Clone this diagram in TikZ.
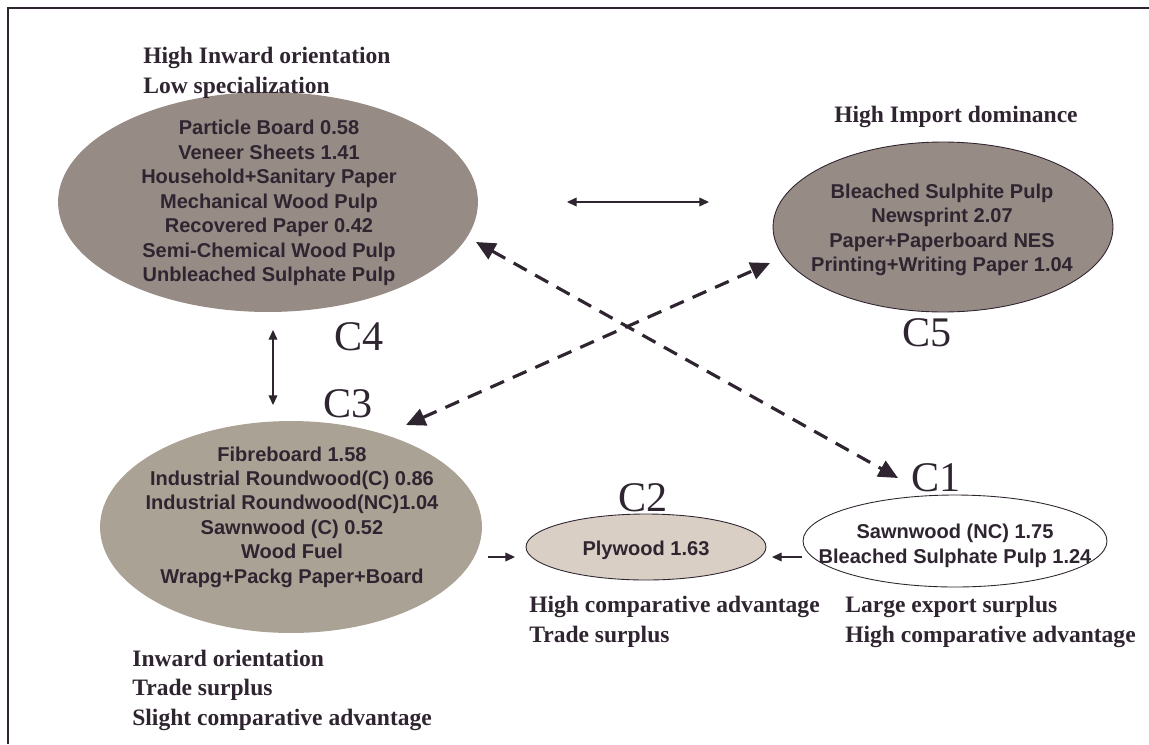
\documentclass[tikz,border=0pt]{standalone}
\usepackage{fontspec}
\setmainfont{Liberation Serif}
\setsansfont{Liberation Sans}
\usetikzlibrary{shapes.geometric,arrows.meta}
\definecolor{ink}{HTML}{2F2530}
\definecolor{darkclu}{HTML}{968B85}
\definecolor{midclu}{HTML}{ABA296}
\definecolor{lightclu}{HTML}{D9CFC5}

\begin{document}
\begin{tikzpicture}[
    x=0.02cm, y=-0.02cm,
    clu/.style={ellipse, inner sep=0pt},
    items/.style={align=center, text=ink, font=\sffamily\bfseries\fontsize{11.4}{13.9}\selectfont},
    note/.style={align=left, anchor=base west, inner sep=0pt, text=ink, font=\bfseries\fontsize{13.4}{16.7}\selectfont},
    tag/.style={text=ink, font=\fontsize{24}{24}\selectfont},
    link/.style={draw=ink, line width=0.6pt, {Triangle[length=5.5pt,width=5pt]}-{Triangle[length=5.5pt,width=5pt]}},
    jump/.style={draw=ink, line width=1.8pt, dash pattern=on 8.5pt off 5.5pt, {Triangle[length=11pt,width=10pt]}-{Triangle[length=11pt,width=10pt]}},
]
    \useasboundingbox (0,0) rectangle (1149,744);
    \draw [ink, line width=1.1pt] (8,744) -- (8,8) -- (1149,8);

    % clusters
    \node [clu, fill=darkclu, minimum width=8.4cm, minimum height=4.4cm] (c4) at (268,202) {};
    \node [clu, fill=darkclu, draw=ink, line width=0.5pt, minimum width=6.8cm, minimum height=3.4cm] (c5) at (943,227) {};
    \node [clu, fill=midclu, minimum width=7.64cm, minimum height=4.24cm] (c3) at (291,527) {};
    \node [clu, fill=lightclu, draw=ink, line width=0.5pt, minimum width=4.8cm, minimum height=1.32cm] (c2) at (646,547) {};
    \node [clu, fill=white, draw=ink, line width=0.5pt, minimum width=6.08cm, minimum height=1.84cm] (c1) at (955,541) {};

    \node [items] (c4items) at (269,203) {Particle Board 0.58\\Veneer Sheets 1.41\\Household+Sanitary Paper\\Mechanical Wood Pulp\\Recovered Paper 0.42\\Semi-Chemical Wood Pulp\\Unbleached Sulphate Pulp};
    \node [items] (c5items) at (942,230) {Bleached Sulphite Pulp\\Newsprint 2.07\\Paper+Paperboard NES\\Printing+Writing Paper 1.04};
    \node [items] (c3items) at (292,517) {Fibreboard 1.58\\Industrial Roundwood(C) 0.86\\Industrial Roundwood(NC)1.04\\Sawnwood (C) 0.52\\Wood Fuel\\Wrapg+Packg Paper+Board};
    \node [items] (c2items) at (646,550) {Plywood 1.63};
    \node [items] (c1items) at (955,546) {Sawnwood (NC) 1.75\\Bleached Sulphate Pulp 1.24};

    % cluster tags
    \node [tag] (t4) at (359,337) {C4};
    \node [tag] (t5) at (927,333) {C5};
    \node [tag] (t3) at (348,404) {C3};
    \node [tag] (t2) at (643,498) {C2};
    \node [tag] (t1) at (936,478) {C1};

    % notes
    \node [note] (n4) at (143,93) {High Inward orientation\\Low specialization};
    \node [note, anchor=base] (n5) at (956,122) {High Import dominance};
    \node [note] (n3) at (132,725) {Inward orientation\\Trade surplus\\Slight comparative advantage};
    \node [note] (n2) at (529,642) {High comparative advantage\\Trade surplus};
    \node [note] (n1) at (845,642) {Large export surplus\\High comparative advantage};

    % connectors
    \coordinate (h4) at (567,202);
    \coordinate (h5) at (709,202);
    \coordinate (v4) at (273,330);
    \coordinate (v3) at (273,405);
    \coordinate (a3) at (488,557);
    \coordinate (a2) at (515,557);
    \coordinate (b1) at (802,557);
    \coordinate (b2) at (772,557);
    \coordinate (d4) at (476,242);
    \coordinate (d1) at (898,478);
    \coordinate (d3) at (406,425);
    \coordinate (d5) at (770,263);
    \draw [link] (h4) -- (h5);
    \draw [link] (v4) -- (v3);
    \draw [link, {Triangle[length=5.5pt,width=5pt]}-] (a2) -- (a3);
    \draw [link, {Triangle[length=5.5pt,width=5pt]}-] (b2) -- (b1);
    \draw [jump] (d4) -- (d1);
    \draw [jump] (d3) -- (d5);
\end{tikzpicture}
\end{document}
